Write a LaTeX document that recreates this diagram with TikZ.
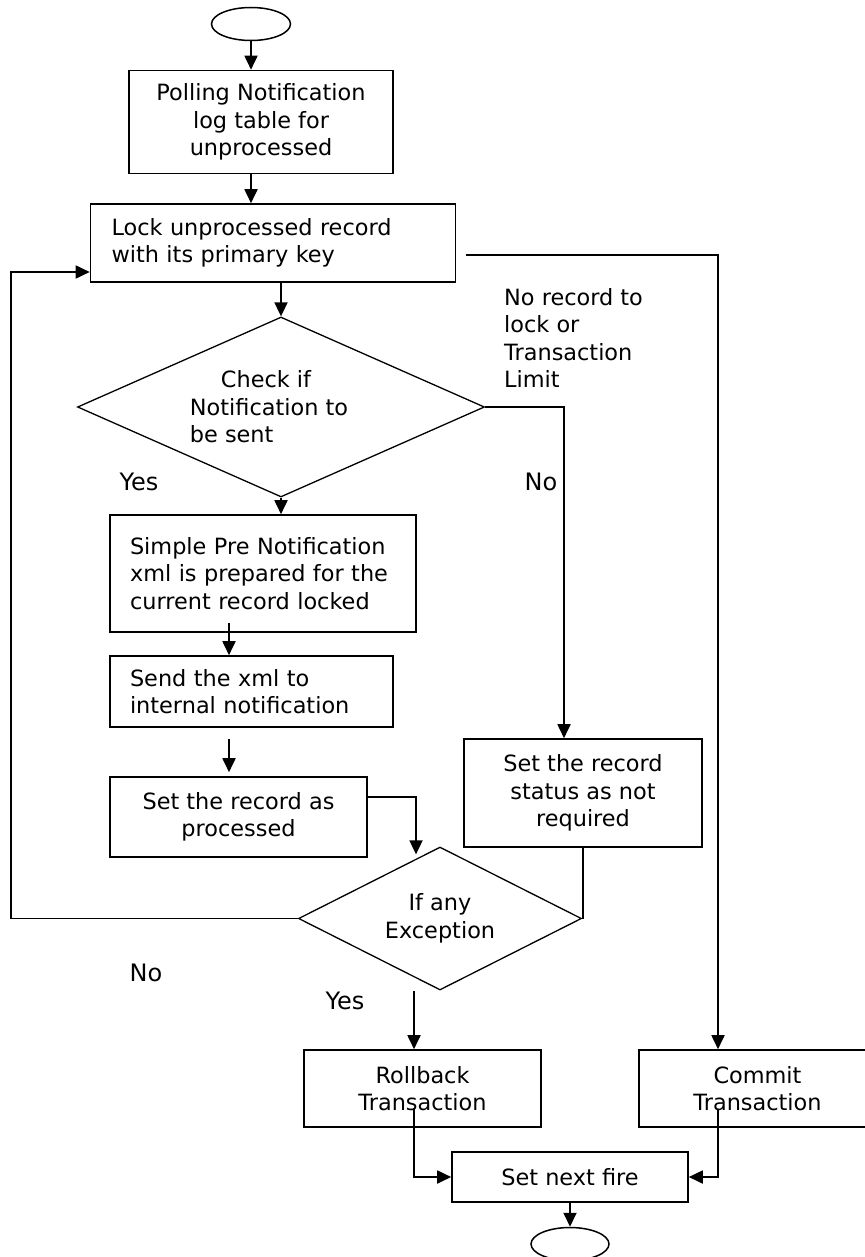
\documentclass[tikz,border=0pt]{standalone}
\usepackage{fontspec}
\setmainfont{DejaVu Sans}
\usetikzlibrary{shapes.geometric,arrows.meta}

\tikzset{
	box/.style={draw, line width=1.6pt, inner sep=0pt, font=\fontsize{22.4}{27.5}\selectfont},
	lbox/.style={box, align=left},
	cbox/.style={box, align=center},
	decision/.style={diamond, draw, line width=1.3pt, inner sep=0pt, font=\fontsize{22.4}{27.5}\selectfont},
	term/.style={ellipse, draw, line width=1.5pt, minimum width=79pt, minimum height=33pt, inner sep=0pt},
	arrow/.style={line width=1.8pt, -{Triangle[length=14pt,width=13pt]}},
	line/.style={line width=1.8pt},
	lbl/.style={inner sep=0pt, font=\fontsize{24}{29}\selectfont}
}

\begin{document}
\begin{tikzpicture}[x=1pt,y=-1pt]
	\useasboundingbox (0,0) rectangle (864,1257);

	% columns of the connectors
	\coordinate (col) at (229,640);
	\coordinate (ncol) at (564,640);
	\coordinate (ycol) at (414,1000);
	\coordinate (ccol) at (718,1000);
	\coordinate (back) at (11,600);

	\node [term] (start) at (251,24) {};
	\node [cbox, minimum width=264pt, minimum height=103pt] (poll) at (261,122)
	{Polling Notification\\log table for\\unprocessed};
	\node [lbox, minimum width=365pt, minimum height=78pt, text width=323pt] (lock) at (273,243)
	{Lock unprocessed record\\with its primary key};
	\node [decision, aspect=2.26, minimum width=407pt, minimum height=180pt, align=left] (check) at (281,407)
	{\hspace*{31pt}Check if\\Notification to\hspace*{24pt}\mbox{}\\be sent};
	\node [lbox, minimum width=306pt, minimum height=117pt, text width=266pt] (simple) at (263,573.5)
	{Simple Pre Notification\\xml is prepared for the\\current record locked};
	\node [lbox, minimum width=283pt, minimum height=71pt, text width=243pt] (send) at (251.5,691.5)
	{Send the xml to\\internal notification};
	\node [cbox, minimum width=257pt, minimum height=80pt] (proc) at (238.5,817)
	{Set the record as\\processed};
	\node [cbox, minimum width=238pt, minimum height=108pt] (notreq) at (583,793)
	{Set the record\\status as not\\required};
	\node [decision, aspect=1.98, minimum width=283pt, minimum height=143pt, align=center] (exc) at (440,918.5)
	{If any\\Exception};
	\node [cbox, minimum width=237pt, minimum height=77pt] (rollback) at (422.5,1088.5)
	{Rollback\\Transaction};
	\node [cbox, minimum width=237pt, minimum height=77pt] (commit) at (757.5,1088.5)
	{Commit\\Transaction};
	\node [cbox, minimum width=236pt, minimum height=50pt] (nextfire) at (570,1177)
	{Set next fire};
	\node [term, minimum width=78pt] (end) at (570,1244) {};

	\node [lbl] (yes1) at (139,482) {Yes};
	\node [lbl] (no1) at (541,482) {No};
	\node [lbl, anchor=west, align=left, font=\fontsize{22.4}{27.6}\selectfont] (norec) at (504,338)
	{No record to\\lock or\\Transaction\\Limit};
	\node [lbl] (no2) at (146,973) {No};
	\node [lbl] (yes2) at (345,1001) {Yes};

	\draw [arrow] (start.south) -- (start |- poll.north);
	\draw [arrow] (start |- poll.south) -- (start |- lock.north);
	\draw [arrow] (check.north |- lock.south) -- (check.north);
	\draw [arrow] (check.south) -- (check.south |- simple.north);
	\draw [arrow, shorten <=-10pt] (col |- simple.south) -- (col |- send.north);
	\draw [arrow, shorten <=11pt, shorten >=4pt] (col |- send.south) -- (col |- proc.north);
	\draw [arrow] ([yshift=20pt]proc.east) -| ([xshift=-24pt,yshift=-8pt]exc.north);
	\draw [arrow] (check.east) -| (ncol |- notreq.north);
	\draw [line] (notreq.south) |- (exc.east);
	\draw [arrow] (exc.west) -| (back) |- ([yshift=-29pt]lock.west);
	\draw [arrow] ([xshift=10pt,yshift=-12pt]lock.east) -| (ccol |- commit.north);
	\draw [arrow] (ycol |- exc.south) -- (ycol |- rollback.north);
	\draw [arrow, shorten <=19pt] (ycol |- rollback.center) |- (nextfire.west);
	\draw [arrow, shorten <=21pt] (ccol |- commit.center) |- (nextfire.east);
	\draw [arrow] (nextfire.south) -- (end.north);
\end{tikzpicture}
\end{document}
